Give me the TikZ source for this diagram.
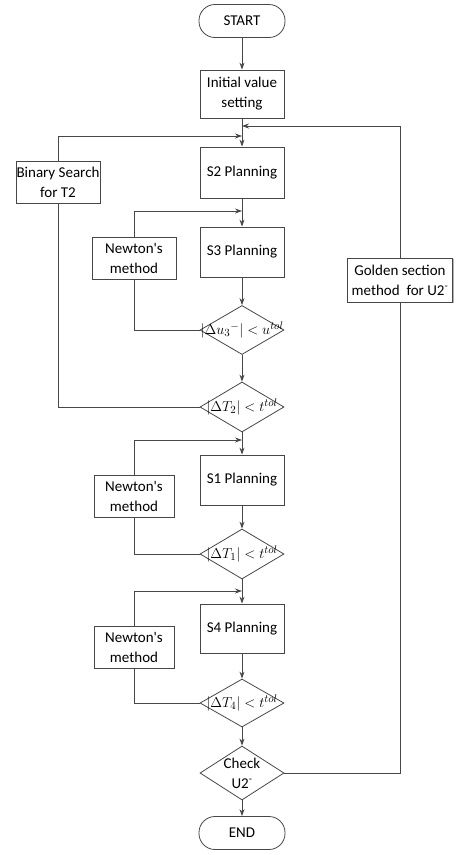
\documentclass[tikz,border=0pt]{standalone}
\usepackage{fontspec}
\setmainfont{Carlito}
\usetikzlibrary{arrows.meta,shadows,shapes.geometric}
\begin{document}
\begin{tikzpicture}[x=1pt,y=-1pt,
  every node/.style={font=\fontsize{15}{20}\selectfont,align=center,inner sep=0pt},
  line/.style={draw=black!72,line width=.8pt},
  arrow/.style={line,-{Stealth[length=7pt,width=5pt]}},
  proc/.style={line,fill=white,minimum width=84pt,minimum height=#1,
    drop shadow={shadow xshift=1.2pt,shadow yshift=-1.2pt,opacity=.3,fill=black}},
  proc/.default=50pt,
  dec/.style={line,fill=white,shape=diamond,minimum width=84pt,minimum height=#1},
  dec/.default=50pt,
  term/.style={line,fill=white,rounded corners=16pt,minimum width=86pt,minimum height=33pt}]
\def\m{242}
\def\l{58}
\def\n{134}
\def\r{403}
\newcommand\cond[1]{\makebox[0pt]{\fontsize{15}{17}\selectfont$#1$}}
\useasboundingbox(0,0)rectangle(460,855);
\node[term](start)at(\m,21){START};
\node[proc=48pt](init)at(\m,94){Initial value\\setting};
\node[proc=51pt](s2)at(\m,172.5){S2 Planning};
\node[proc=42pt](bs)at(\l,182){Binary Search\\for T2};
\node[proc](s3)at(\m,252){S3 Planning};
\node[proc=42pt](nw1)at(\n,258){Newton\textquotesingle s\\method};
\node[dec=49pt](d1)at(\m,330){\cond{\Bigl|\Delta u_3{}^{-}\Bigr|<u^{tol}}};
\node[dec](d2)at(\m,407){\cond{\Bigl|\Delta T_2\Bigr|<t^{tol}}};
\node[proc=44pt,minimum width=105pt](gs)at(400,280){Golden section\\method~ for U2\textsuperscript{-}};
\node[proc](s1)at(\m,480){S1 Planning};
\node[proc=42pt,minimum width=80pt](nw2)at(\n,496){Newton\textquotesingle s\\method};
\node[dec](d3)at(\m,554){\cond{\Bigl|\Delta T_1\Bigr|<t^{tol}}};
\node[proc=49pt](s4)at(\m,628.5){S4 Planning};
\node[proc=42pt,minimum width=80pt](nw3)at(\n,647){Newton\textquotesingle s\\method};
\node[dec=48pt](d4)at(\m,703){\cond{\Bigl|\Delta T_4\Bigr|<t^{tol}}};
\node[dec=54pt](chk)at(\m,773){\makebox[0pt]{Check}\\\makebox[0pt]{U2\textsuperscript{-}}};
\node[term](end)at(\m,833){END};
\coordinate(jr)at(\m,126);
\coordinate(jl)at(\m,136);
\coordinate(j3)at(\m,211);
\coordinate(j1)at(\m,440);
\coordinate(j4)at(\m,591);
\draw[arrow](start)--(init);
\draw[arrow](init)--(s2);
\draw[arrow](s2)--(s3);
\draw[arrow](s3)--(d1);
\draw[arrow](d1)--(d2);
\draw[arrow](d2)--(s1);
\draw[arrow](s1)--(d3);
\draw[arrow](d3)--(s4);
\draw[arrow](s4)--(d4);
\draw[arrow](d4)--(chk);
\draw[arrow](chk)--(end);
\draw[line](chk.east)-|(gs.south);
\draw[arrow](gs.north)|-(jr);
\draw[line](d2.west)-|(bs.south);
\draw[arrow](bs.north)|-(jl);
\draw[line](d1.west)-|(nw1.south);
\draw[arrow](nw1.north)|-(j3);
\draw[line](d3.west)-|(nw2.south);
\draw[arrow](nw2.north)|-(j1);
\draw[line](d4.west)-|(nw3.south);
\draw[arrow](nw3.north)|-(j4);
\end{tikzpicture}
\end{document}
